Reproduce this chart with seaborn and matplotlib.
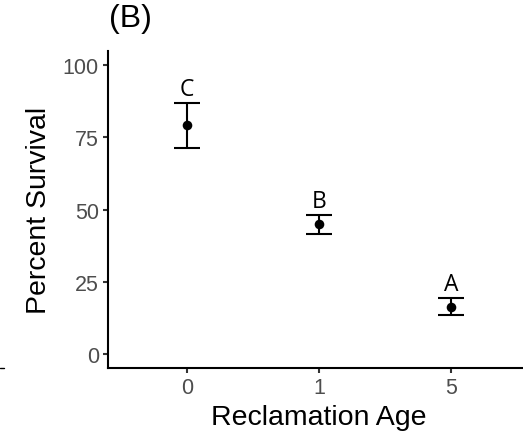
import matplotlib
matplotlib.use("Agg")
import matplotlib.pyplot as plt
import seaborn as sns
import pandas as pd
import numpy as np

# Data
ages = ["0", "1", "5"]
mean_survival = [79.2, 44.8, 16.2]
lower = [71.3, 41.6, 13.4]
upper = [87.0, 48.2, 19.2]
letters = ["C", "B", "A"]

df = pd.DataFrame({"age": ages, "mean": mean_survival, "lo": lower, "hi": upper, "letter": letters})

sns.set_theme(style="white")
plt.rcParams["font.family"] = ["Liberation Sans", "DejaVu Sans"]

W, H = 523, 439
fig = plt.figure(figsize=(W / 100, H / 100), dpi=100)
ax = fig.add_axes([108 / W, 1 - 369 / H, (530 - 108) / W, (369 - 52) / H])

lw = 1.5
pos = np.arange(len(df))
ax.errorbar(pos, df["mean"],
            yerr=[df["mean"] - df["lo"], df["hi"] - df["mean"]],
            fmt="none", ecolor="black", elinewidth=lw, capsize=13.5 * 0.72, capthick=lw, zorder=2)
sns.scatterplot(x=pos, y=df["mean"], color="black", s=48, edgecolor="black", linewidth=0, ax=ax, zorder=3)

for i, row in df.iterrows():
    ax.text(pos[i], row["hi"] + 2.8, row["letter"], ha="center", va="baseline",
            fontsize=16.5, family=["Open Sans", "DejaVu Sans"], color="black")

ax.set_xlim(-0.6, len(df) - 1 + 0.6)
ax.set_ylim(-5, 105)
ax.set_xticks(pos)
ax.set_xticklabels(df["age"])
ax.set_yticks([0, 25, 50, 75, 100])

for s in ["top", "right"]:
    ax.spines[s].set_visible(False)
for s in ["left", "bottom"]:
    ax.spines[s].set_color("black")
    ax.spines[s].set_linewidth(lw)

ax.tick_params(axis="both", which="both", length=3.6, width=lw, color="#333333",
               labelsize=15.5, labelcolor="#4D4D4D", pad=3, left=True, bottom=True)

ax.set_xlabel("Reclamation Age", fontsize=20.5, color="black", labelpad=4)
ax.set_ylabel("Percent Survival", fontsize=20.5, color="black", labelpad=8)

fig.text(109 / W, 1 - 27 / H, "(B)", fontsize=23, ha="left", va="baseline", color="black")

# small crop artifact mark at left edge
fig.add_artist(plt.Line2D([0, 4 / W], [1 - 369 / H, 1 - 369 / H], color="black", lw=1.0,
                          transform=fig.transFigure))

fig.savefig("out.png", dpi=100)
